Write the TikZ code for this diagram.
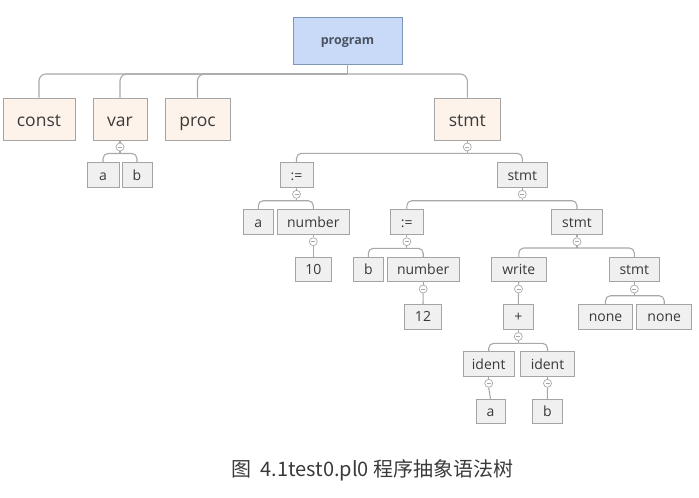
\documentclass[tikz,border=0pt]{standalone}
\usepackage{fontspec}
\setmainfont{Open Sans}
\newfontfamily\cjk{Noto Sans CJK SC}
\definecolor{lnc}{HTML}{A8A8A8}
\definecolor{bdc}{HTML}{A4A4A4}
\definecolor{smf}{HTML}{F0F0F0}
\definecolor{bgf}{HTML}{FDF3EA}
\definecolor{prf}{HTML}{C9DAF9}
\definecolor{prb}{HTML}{8095BA}
\definecolor{txc}{HTML}{3A3A3A}
\definecolor{prt}{HTML}{4A5260}
\tikzset{
  conn/.style={draw=lnc, line width=1.1pt},
  bignode/.style={draw=bdc, fill=bgf, line width=0.9pt, minimum height=42pt, inner sep=0pt, text=txc, text height=14.6pt, text depth=0.6pt, font=\fontsize{17.5}{20}\selectfont},
  smallnode/.style={draw=bdc, fill=smf, line width=0.9pt, minimum height=24.5pt, inner sep=0pt, text=txc, text height=10.5pt, text depth=0pt, font=\fontsize{14}{16}\selectfont},
  rootnode/.style={draw=prb, fill=prf, line width=0.9pt, minimum width=109pt, minimum height=47pt, inner sep=0pt, text=prt, text height=8pt, text depth=1pt, font=\fontsize{12.5}{14}\selectfont\bfseries},
  btn/.style={circle, draw=lnc, fill=white, line width=0.7pt, minimum size=8pt, inner sep=0pt,
    path picture={\draw[lnc, line width=0.7pt] ([xshift=-2pt]path picture bounding box.center) -- ([xshift=2pt]path picture bounding box.center);}},
  br/.style={conn, rounded corners=7pt},
  bs/.style={conn, rounded corners=5pt}
}
\begin{document}
\begin{tikzpicture}[x=1pt, y=-1pt]
\useasboundingbox (0,0) rectangle (699,498);
% nodes
\node[rootnode] (prog) at (347.5,40.5) {program};
\node[bignode, minimum width=72pt] (const) at (39,119) {const};
\node[bignode, minimum width=54pt] (var) at (120,119) {var};
\node[bignode, minimum width=65pt] (proc) at (197.5,119) {proc};
\node[bignode, minimum width=66.7pt] (st1) at (467.3,119) {stmt};

\node[smallnode, minimum width=32pt] (va) at (103,174.8) {a};
\node[smallnode, minimum width=30pt] (vb) at (137,174.8) {b};
\node[smallnode, minimum width=33pt] (as1) at (296.5,174.8) {:=};
\node[smallnode, minimum width=50.7pt] (st2) at (522.3,174.8) {stmt};

\node[smallnode, minimum width=30pt] (a1) at (258.3,222) {a};
\node[smallnode, minimum width=72pt] (n1) at (313.3,222) {number};
\node[smallnode, minimum width=33pt] (as2) at (406.8,222) {:=};
\node[smallnode, minimum width=50.6pt] (st3) at (577,222) {stmt};

\node[smallnode, minimum width=36.7pt] (ten) at (313.3,269.5) {10};
\node[smallnode, minimum width=30pt] (b1) at (368.3,269.5) {b};
\node[smallnode, minimum width=72.3pt] (n2) at (423.2,269.5) {number};
\node[smallnode, minimum width=54.3pt] (wr) at (518.8,269.5) {write};
\node[smallnode, minimum width=50pt] (st4) at (634.3,269.5) {stmt};

\node[smallnode, minimum width=37.4pt] (twelve) at (423,316.7) {12};
\node[smallnode, minimum width=30pt] (plus) at (518.3,316.7) {+};
\node[smallnode, minimum width=54.4pt] (no1) at (605.5,316.7) {none};
\node[smallnode, minimum width=55pt] (no2) at (664.2,316.7) {none};

\node[smallnode, minimum width=50.7pt] (id1) at (488.7,364) {ident};
\node[smallnode, minimum width=53.6pt] (id2) at (547.5,364) {ident};

\node[smallnode, minimum width=29pt] (a2) at (490.5,411.5) {a};
\node[smallnode, minimum width=30pt] (b2) at (547.3,411.5) {b};

% root connectors
\coordinate (jprog) at (347.5,74);
\draw[conn] (prog.south) -- (jprog);
\draw[br] (jprog) -| (const.north);
\draw[br] (jprog) -| (var.north);
\draw[br] (jprog) -| (proc.north);
\draw[br] (jprog) -| (st1.north);

% var
\node[btn] (bvar) at (120,147) {};
\coordinate (jvar) at (120,153.5);
\draw[conn] (var.south) -- (bvar.north);
\draw[conn] (bvar.south) -- (jvar);
\draw[bs] (jvar) -| (va.north);
\draw[bs] (jvar) -| (vb.north);

% stmt1
\node[btn] (bst1) at (467.3,147) {};
\coordinate (jst1) at (467.3,153.3);
\draw[conn] (st1.south) -- (bst1.north);
\draw[conn] (bst1.south) -- (jst1);
\draw[bs] (jst1) -| (as1.north);
\draw[bs] (jst1) -| (st2.north);

% as1
\node[btn] (bas1) at (296.5,194.3) {};
\coordinate (jas1) at (296.5,200.7);
\draw[conn] (as1.south) -- (bas1.north);
\draw[conn] (bas1.south) -- (jas1);
\draw[bs] (jas1) -| (a1.north);
\draw[bs] (jas1) -| (n1.north);

% st2
\node[btn] (bst2) at (522.3,194.3) {};
\coordinate (jst2) at (522.3,200.7);
\draw[conn] (st2.south) -- (bst2.north);
\draw[conn] (bst2.south) -- (jst2);
\draw[bs] (jst2) -| (as2.north);
\draw[bs] (jst2) -| (st3.north);

% n1
\node[btn] (bn1) at (313.3,241.7) {};
\draw[conn] (n1.south) -- (bn1.north);
\draw[conn] (bn1.south) -- (ten.north);

% as2
\node[btn] (bas2) at (406.8,241.7) {};
\coordinate (jas2) at (406.8,248.3);
\draw[conn] (as2.south) -- (bas2.north);
\draw[conn] (bas2.south) -- (jas2);
\draw[bs] (jas2) -| (b1.north);
\draw[bs] (jas2) -| (n2.north);

% st3
\node[btn] (bst3) at (577,241.7) {};
\coordinate (jst3) at (577,248);
\draw[conn] (st3.south) -- (bst3.north);
\draw[conn] (bst3.south) -- (jst3);
\draw[bs] (jst3) -| (wr.north);
\draw[bs] (jst3) -| (st4.north);

% n2
\node[btn] (bn2) at (423.2,289) {};
\draw[conn] (n2.south) -- (bn2.north);
\draw[conn] (bn2.south) -- (twelve.north);

% write
\node[btn] (bwr) at (518.5,289) {};
\draw[conn] (wr.south) -- (bwr.north);
\draw[conn] (bwr.south) -- (plus.north);

% st4
\node[btn] (bst4) at (634.3,289) {};
\coordinate (jst4) at (634.3,295.7);
\draw[conn] (st4.south) -- (bst4.north);
\draw[conn] (bst4.south) -- (jst4);
\draw[bs] (jst4) -| (no1.north);
\draw[bs] (jst4) -| (no2.north);

% plus
\node[btn] (bplus) at (518.3,336.5) {};
\coordinate (jplus) at (518.3,343.3);
\draw[conn] (plus.south) -- (bplus.north);
\draw[conn] (bplus.south) -- (jplus);
\draw[bs] (jplus) -| (id1.north);
\draw[bs] (jplus) -| (id2.north);

% idents
\node[btn] (bid1) at (488.7,383.3) {};
\draw[conn] (id1.south) -- (bid1.north);
\draw[conn] (bid1.south) -- (a2.north);
\node[btn] (bid2) at (547.5,383.3) {};
\draw[conn] (id2.south) -- (bid2.north);
\draw[conn] (bid2.south) -- (b2.north);

% caption
\node[text=txc, font=\cjk\fontsize{20}{24}\selectfont] (cap) at (372.5,470) {图\ \ 4.1test0.pl0 程序抽象语法树};
\end{tikzpicture}
\end{document}
